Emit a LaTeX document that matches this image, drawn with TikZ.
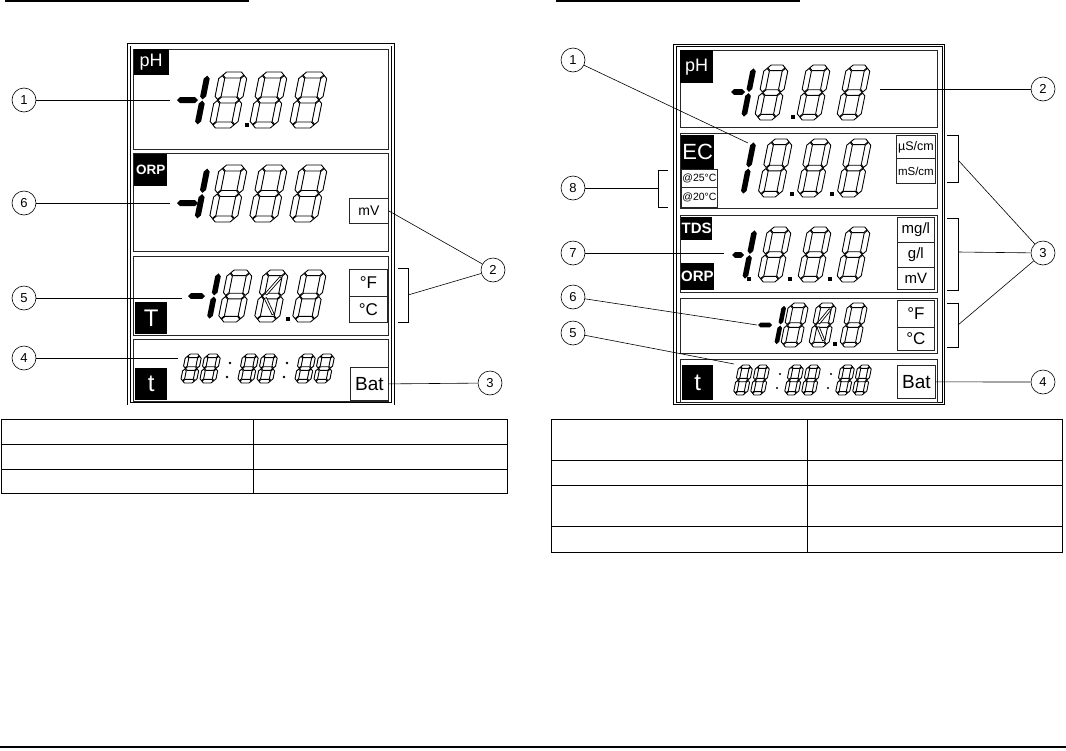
\documentclass[tikz,border=0pt]{standalone}
\usepackage{fontspec}
\setmainfont{Liberation Sans}

% --- font size helper ---
\newcommand{\fsz}[1]{\fontsize{#1}{#1}\selectfont}

% --- LCD segment helpers (local coords, y downwards) ---
\def\segh{2.5}   % half thickness of a segment
\def\seggap{0.6} % gap between segments
\def\slant{0.2}  % italic slant of the digits

\newcommand{\hseg}[4]{\path[#1] ({#2},{#4}) -- ({#2+\segh},{#4-\segh}) -- ({#3-\segh},{#4-\segh})
  -- ({#3},{#4}) -- ({#3-\segh},{#4+\segh}) -- ({#2+\segh},{#4+\segh}) -- cycle;}
\newcommand{\vseg}[4]{\path[#1] ({#2},{#3}) -- ({#2+\segh},{#3+\segh}) -- ({#2+\segh},{#4-\segh})
  -- ({#2},{#4}) -- ({#2-\segh},{#4-\segh}) -- ({#2-\segh},{#3+\segh}) -- cycle;}

% an outlined "8" with top left corner at (#1,#2), width #3, height #4
\newcommand{\eightat}[4]{%
  \begin{scope}[shift={(#1,#2)}, xslant=\slant]
    \pgfmathsetmacro{\dR}{#3-\segh}
    \pgfmathsetmacro{\dM}{#4/2}
    \pgfmathsetmacro{\dB}{#4-\segh}
    \hseg{segoff}{\segh+\seggap}{\dR-\seggap}{\segh}
    \hseg{segoff}{\segh+\seggap}{\dR-\seggap}{\dM}
    \hseg{segoff}{\segh+\seggap}{\dR-\seggap}{\dB}
    \vseg{segoff}{\segh}{\segh+\seggap}{\dM-\seggap}
    \vseg{segoff}{\segh}{\dM+\seggap}{\dB-\seggap}
    \vseg{segoff}{\dR}{\segh+\seggap}{\dM-\seggap}
    \vseg{segoff}{\dR}{\dM+\seggap}{\dB-\seggap}
  \end{scope}}

% a lit "1"
\newcommand{\oneat}[4]{%
  \begin{scope}[shift={(#1,#2)}, xslant=\slant]
    \pgfmathsetmacro{\dR}{#3-\segh}
    \pgfmathsetmacro{\dM}{#4/2}
    \pgfmathsetmacro{\dB}{#4-\segh}
    \vseg{segon}{\dR}{\segh+\seggap}{\dM-\seggap}
    \vseg{segon}{\dR}{\dM+\seggap}{\dB-\seggap}
  \end{scope}}

% the two diagonal segments of the third temperature digit
\newcommand{\diagat}[4]{%
  \begin{scope}[shift={(#1,#2)}, xslant=\slant]
    \pgfmathsetmacro{\dR}{#3-2*\segh}
    \pgfmathsetmacro{\dM}{#4/2}
    \pgfmathsetmacro{\dB}{#4-2*\segh}
    \draw[line width=3pt, shorten <=2pt, shorten >=2pt] ({\dR},{2*\segh}) -- ({2*\segh},{\dM});
    \draw[white, line width=1.3pt, shorten <=2.8pt, shorten >=2.8pt] ({\dR},{2*\segh}) -- ({2*\segh},{\dM});
    \draw[line width=3pt, shorten <=2pt, shorten >=2pt] ({2*\segh},{\dM}) -- ({\dR},{\dB});
    \draw[white, line width=1.3pt, shorten <=2.8pt, shorten >=2.8pt] ({2*\segh},{\dM}) -- ({\dR},{\dB});
  \end{scope}}

\newcommand{\minusat}[3]{\hseg{segon}{#1}{#2}{#3}}
\newcommand{\dotat}[3]{\fill ({#1-#3/2},{#2-#3/2}) rectangle ++(#3,#3);}

\tikzset{
  segoff/.style={draw=black, line width=0.9pt, fill=white, line join=miter},
  segon/.style={fill=black},
  panel/.style={draw=black!85, line width=1pt},
  frame/.style={draw=black, line width=0.9pt, double, double distance=1.8pt},
  tag/.style={fill=black, text=white, inner sep=0pt, anchor=north west},
  unitbox/.style={draw=black!85, line width=0.8pt, fill=white, inner sep=0pt, anchor=north west},
  callout/.style={circle, draw, line width=0.6pt, minimum size=24pt, inner sep=0pt, font=\fsz{13}},
  leader/.style={line width=0.6pt},
  bracket/.style={line width=0.7pt},
  grid/.style={line width=1pt},
}

\begin{document}
\begin{tikzpicture}[x=1pt, y=-1pt]
\useasboundingbox (0,0) rectangle (1066,750);

% --- page rules ---
\draw[line width=1.6pt] (5,1) -- (249,1);
\draw[line width=1.6pt] (556,1) -- (800,1);
\draw[line width=1.2pt] (0,747) -- (1066,747);

% =========================== LEFT DISPLAY ===========================
\draw[frame] (129.2,44.6) rectangle (393.2,403.6);
\draw[panel] (133.5,49) rectangle (388.5,149);
\draw[panel] (133.5,153) rectangle (388.5,251.5);
\draw[panel] (133.5,256) rectangle (388.5,335);
\draw[panel] (133.5,339) rectangle (388.5,401);

% --- labels ---
\node[tag, minimum width=35pt, minimum height=26pt, font=\fsz{18}] (phL) at (133.5,49) {pH};
\node[tag, minimum width=33pt, minimum height=32pt, font=\bfseries\fsz{13.5}] (orpL) at (134,154) {ORP};
\node[tag, minimum width=32pt, minimum height=32pt, font=\fsz{24}] (tempL) at (135,302) {T};
\node[tag, minimum width=32pt, minimum height=32pt, font=\fsz{24}] (timeL) at (135,368) {t};

\node[unitbox, minimum width=39pt, minimum height=25pt, font=\fsz{14}] (mvL) at (349,198) {mV};
\node[unitbox, minimum width=38pt, minimum height=27pt, font=\fsz{17}] (degfL) at (349,269) {°F};
\node[unitbox, minimum width=38pt, minimum height=26pt, font=\fsz{17}] (degcL) at (349,296) {°C};
\node[unitbox, minimum width=38pt, minimum height=33pt, font=\fsz{19}] (batL) at (350,367) {Bat};

% --- pH digits ---
\def\segh{3}
\minusat{177}{198}{100}
\oneat{203}{72}{8}{56}
\foreach \x in {220,260,300} {\eightat{\x}{72}{28}{56}}
\dotat{247}{125}{4.5}
% --- ORP digits ---
\minusat{177}{198}{203}
\oneat{203}{165}{8}{57}
\foreach \x in {220,260,300} {\eightat{\x}{165}{28}{57}}
% --- temperature digits ---
\def\segh{2.8}
\minusat{188}{205}{296}
\oneat{214}{270}{8}{52}
\foreach \x in {228,264,302} {\eightat{\x}{270}{25}{52}}
\diagat{264}{270}{25}{52}
\dotat{288}{319}{4}
% --- time digits ---
\def\segh{1.8}
\foreach \g in {0,1,2} {
  \eightat{186+57*\g}{354}{16}{29}
  \eightat{205+57*\g}{354}{16}{29}
}
\foreach \g in {0,1} {
  \fill (230+57*\g,363) circle (1.3pt);
  \fill (227+57*\g,377) circle (1.3pt);
}

% --- bracket round the temperature units ---
\draw[bracket] (398,268) -- (408,268) -- (408,322) -- (398,322);
\coordinate (brL) at (408,295);

% --- callouts ---
\node[callout] (c1L) at (24,100) {1};
\node[callout] (c6L) at (24,203) {6};
\node[callout] (c5L) at (24,298) {5};
\node[callout] (c4L) at (24,358) {4};
\node[callout] (c2L) at (493,270) {2};
\node[callout] (c3L) at (490,383) {3};
\coordinate (p1L) at (170,100);
\coordinate (p6L) at (170,203);
\coordinate (p5L) at (182,298);
\coordinate (p4L) at (178,358);
\draw[leader] (c1L) -- (p1L);
\draw[leader] (c6L) -- (p6L);
\draw[leader] (c5L) -- (p5L);
\draw[leader] (c4L) -- (p4L);
\draw[leader] (mvL.east) -- (c2L);
\draw[leader] (brL) -- (c2L);
\draw[leader] (batL.east) -- (c3L);

% --- left table ---
\draw[grid] (1,419) rectangle (507,493);
\draw[grid] (253,419) -- (253,493);
\draw[grid] (1,444) -- (507,444);
\draw[grid] (1,469) -- (507,469);

% =========================== RIGHT DISPLAY ===========================
\draw[frame] (675,45.5) rectangle (943.5,403.5);
\draw[panel] (680,50) rectangle (937,127);
\draw[panel] (680,133) rectangle (937,208);
\draw[panel] (680,215) rectangle (937,292);
\draw[panel] (680,298) rectangle (937,353);
\draw[panel] (680,359) rectangle (937,402);

% --- labels ---
\node[tag, minimum width=33pt, minimum height=33pt, font=\fsz{18}] (phR) at (680,50) {pH};
\node[tag, minimum width=33pt, minimum height=34pt, font=\fsz{22}] (ecR) at (681,135) {EC};
\node[unitbox, minimum width=36pt, minimum height=18pt, font=\fsz{10.5}] (at25R) at (681,169) {@25°C};
\node[unitbox, minimum width=36pt, minimum height=20pt, font=\fsz{10.5}] (at20R) at (681,187) {@20°C};
\node[tag, minimum width=31pt, minimum height=23pt, font=\bfseries\fsz{15}] (tdsR) at (681,217) {TDS};
\node[tag, minimum width=31pt, minimum height=27pt, font=\bfseries\fsz{15}] (orpR) at (681,263) {ORP};
\node[tag, minimum width=31pt, minimum height=35pt, font=\fsz{24}] (timeR) at (682,365) {t};

\node[unitbox, minimum width=39pt, minimum height=23pt, font=\fsz{12.5}] (usR) at (896,135) {µS/cm};
\node[unitbox, minimum width=39pt, minimum height=25pt, font=\fsz{11.5}] (msR) at (896,158) {mS/cm};
\node[unitbox, minimum width=37pt, minimum height=25pt, font=\fsz{15}] (mglR) at (897,217) {mg/l};
\node[unitbox, minimum width=37pt, minimum height=25pt, font=\fsz{15}] (glR) at (897,242) {g/l};
\node[unitbox, minimum width=37pt, minimum height=22pt, font=\fsz{15}] (mvR) at (897,267) {mV};
\node[unitbox, minimum width=37pt, minimum height=27pt, font=\fsz{17}] (degfR) at (897,300) {°F};
\node[unitbox, minimum width=37pt, minimum height=23pt, font=\fsz{17}] (degcR) at (897,327) {°C};
\node[unitbox, minimum width=38pt, minimum height=33pt, font=\fsz{19}] (batR) at (897,365) {Bat};

% --- pH digits ---
\def\segh{2.8}
\minusat{731}{745}{92}
\oneat{749}{65}{8}{55}
\foreach \x in {765,807,847} {\eightat{\x}{65}{24}{55}}
\dotat{793}{117}{4}
% --- EC digits ---
\oneat{749}{139}{8}{58}
\foreach \x in {769,808,848} {\eightat{\x}{139}{24}{58}}
\dotat{792}{194}{4}
\dotat{832}{194}{4}
% --- TDS / ORP digits ---
\minusat{732}{744}{255}
\oneat{750}{227}{8}{55}
\foreach \x in {768,808,847} {\eightat{\x}{227}{24}{55}}
\dotat{749}{279}{4}
\dotat{790}{279}{4}
\dotat{830}{279}{4}
% --- temperature digits ---
\def\segh{2.3}
\minusat{758}{772}{325}
\oneat{780}{303}{7}{44}
\foreach \x in {789,817,848} {\eightat{\x}{303}{20}{44}}
\diagat{817}{303}{20}{44}
\dotat{835}{344}{3.5}
% --- time digits ---
\def\segh{1.7}
\foreach \g in {0,1,2} {
  \eightat{739+51*\g}{365}{14}{30}
  \eightat{756+51*\g}{365}{14}{30}
}
\foreach \g in {0,1} {
  \fill (780+51*\g,374) circle (1.2pt);
  \fill (777+51*\g,388) circle (1.2pt);
}

% --- brackets ---
\draw[bracket] (668,170) -- (658,170) -- (658,207) -- (668,207);
\coordinate (br8R) at (658,188);
\draw[bracket] (947,135) -- (958,135) -- (958,182) -- (947,182);
\draw[bracket] (947,218) -- (958,218) -- (958,290) -- (947,290);
\draw[bracket] (947,303) -- (958,303) -- (958,347) -- (947,347);
\coordinate (br3aR) at (958,160);
\coordinate (br3bR) at (958,252);
\coordinate (br3cR) at (958,325);

% --- callouts ---
\node[callout] (c1R) at (573,60) {1};
\node[callout] (c8R) at (573,188) {8};
\node[callout] (c7R) at (573,253) {7};
\node[callout] (c6R) at (573,297) {6};
\node[callout] (c5R) at (573,333) {5};
\node[callout] (c2R) at (1043,89) {2};
\node[callout] (c3R) at (1043,253) {3};
\node[callout] (c4R) at (1043,382) {4};
\coordinate (p1R) at (748,143);
\coordinate (p7R) at (724,253);
\coordinate (p6R) at (757,325);
\coordinate (p5R) at (734,364);
\coordinate (p2R) at (880,89);
\draw[leader] (c1R) -- (p1R);
\draw[leader] (c8R) -- (br8R);
\draw[leader] (c7R) -- (p7R);
\draw[leader] (c6R) -- (p6R);
\draw[leader] (c5R) -- (p5R);
\draw[leader] (p2R) -- (c2R);
\draw[leader] (br3aR) -- (c3R);
\draw[leader] (br3bR) -- (c3R);
\draw[leader] (br3cR) -- (c3R);
\draw[leader] (batR.east) -- (c4R);

% --- right table ---
\draw[grid] (551,419) rectangle (1062,552);
\draw[grid] (807,419) -- (807,552);
\draw[grid] (551,460) -- (1062,460);
\draw[grid] (551,485) -- (1062,485);
\draw[grid] (551,526) -- (1062,526);
\end{tikzpicture}
\end{document}
